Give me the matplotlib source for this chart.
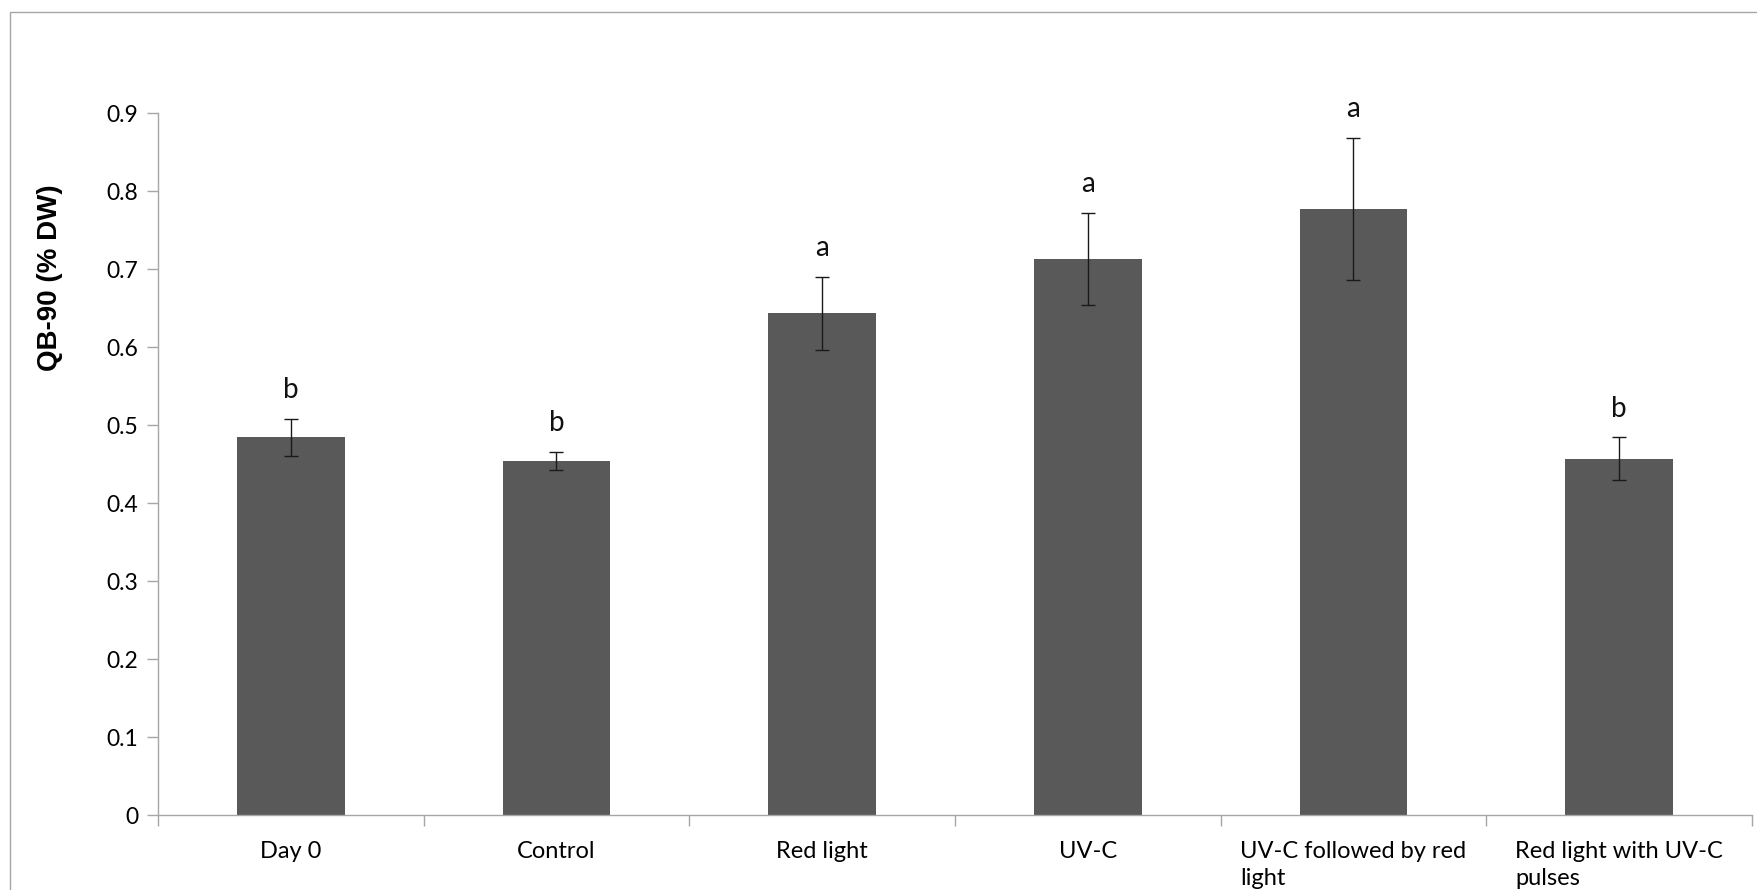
import matplotlib
matplotlib.use("Agg")
import matplotlib.pyplot as plt
from matplotlib.patches import Rectangle

categories = ["Day 0", "Control", "Red light", "UV-C",
              "UV-C followed by red\nlight", "Red light with UV-C\npulses"]
values = [0.484, 0.454, 0.643, 0.713, 0.777, 0.457]
errors = [0.024, 0.012, 0.047, 0.059, 0.091, 0.027]
letters = ["b", "b", "a", "a", "a", "b"]
yticks = [0, 0.1, 0.2, 0.3, 0.4, 0.5, 0.6, 0.7, 0.8, 0.9]
ytick_labels = ["0", "0.1", "0.2", "0.3", "0.4", "0.5", "0.6", "0.7", "0.8", "0.9"]

W, H = 1758, 890
fig = plt.figure(figsize=(W / 100, H / 100), dpi=100)
ax = fig.add_axes([158 / W, (H - 815) / H, (1752 - 158) / W, (815 - 113) / H])

font = "Lato"
x = list(range(len(categories)))
ax.bar(x, values, width=0.405, color="#595959", zorder=2)
ax.errorbar(x, values, yerr=errors, fmt="none", ecolor="#1a1a1a",
            elinewidth=1.0, capsize=5.2, capthick=1.0, zorder=3)
for xi, v, e, l in zip(x, values, errors, letters):
    ax.annotate(l, (xi, v + e), xytext=(0, 15), textcoords="offset points",
                ha="center", va="baseline", fontsize=20, family=font, color="#111111")

ax.set_xlim(-0.5, len(categories) - 0.5)
ax.set_ylim(0, 0.9)
ax.set_yticks(yticks)
ax.set_yticklabels(ytick_labels, family=font, fontsize=16.5)
ax.set_xticks([i - 0.5 for i in range(len(categories) + 1)])
ax.set_xticklabels([])
ax.set_xticks(x, minor=True)
ax.set_xticklabels(categories, minor=True, family=font, fontsize=17,
                   ha="center", va="top", multialignment="left", linespacing=1.4)
ax.tick_params(axis="x", which="minor", length=0, pad=18.5)
ax.tick_params(axis="x", which="major", length=8, width=1, color="#a6a6a6")
ax.tick_params(axis="y", length=8, width=1, color="#a6a6a6", pad=6)

for s in ["top", "right"]:
    ax.spines[s].set_visible(False)
for s in ["left", "bottom"]:
    ax.spines[s].set_color("#a6a6a6")
    ax.spines[s].set_linewidth(1.0)

ax.set_ylabel("QB-90 (% DW)", family="Liberation Sans", fontweight="bold",
              fontsize=20)
ax.yaxis.label.set_va("center")
ax.yaxis.set_label_coords(50 / W, (H - 278) / H, transform=fig.transFigure)

fig.patches.append(Rectangle((9.5 / W, -0.05), 1.1, (H - 12) / H + 0.05,
                             transform=fig.transFigure, fill=False,
                             edgecolor="#a6a6a6", linewidth=1.0))

fig.savefig("out.png", dpi=100)
